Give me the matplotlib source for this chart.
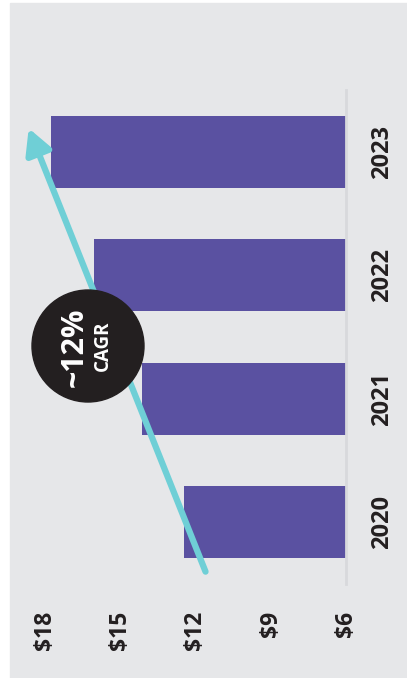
import matplotlib.pyplot as plt
from matplotlib.patches import Circle, Rectangle

years = ['2020', '2021', '2022', '2023']
values = [12.45, 14.15, 16.05, 17.75]
tick_vals = [18, 15, 12, 9, 6]
tick_labels = ['$18', '$15', '$12', '$9', '$6']

purple = '#5a51a1'
cyan = '#6fcfd6'
bg = '#e6e7e9'
fonts = ['Open Sans', 'DejaVu Sans']

fig = plt.figure(figsize=(4.07, 6.78), dpi=100)
fig.patches.append(Rectangle((10 / 407, 0), 1, 1 - 3 / 678, transform=fig.transFigure,
                             color=bg, zorder=-1))

ax = fig.add_axes([45 / 407, (678 - 584) / 678, 301 / 407, 494 / 678])
ax.set_facecolor('none')

pos = list(range(len(years)))
ax.barh(pos, [v - 6 for v in values], left=6, height=0.585, color=purple, zorder=2)

ax.set_xlim(18, 6)
ax.set_ylim(-0.5, 3.5)

for s in ['left', 'top', 'bottom']:
    ax.spines[s].set_visible(False)
ax.spines['right'].set_color('#d8d9dc')
ax.spines['right'].set_linewidth(2)

ax.set_xticks(tick_vals)
ax.set_xticklabels(tick_labels, rotation=90, fontsize=16.5, fontweight='bold',
                   family=fonts, color='#231f20')
ax.tick_params(axis='x', length=0, pad=19)

ax.yaxis.tick_right()
ax.set_yticks(pos)
ax.set_yticklabels(years, rotation=90, fontsize=17, fontweight='bold',
                   family=fonts, color='#231f20', va='center')
ax.tick_params(axis='y', length=0, pad=17)

# CAGR arrow
ax.annotate('', xy=(18.65, 3.19), xytext=(11.6, -0.4),
            arrowprops=dict(arrowstyle='-|>,head_length=1.5,head_width=0.8',
                            color=cyan, lw=4.5, shrinkA=0, shrinkB=0),
            annotation_clip=False, zorder=3)

# black badge (in inches so it stays round)
badge = Circle((0.88, (678 - 346) / 100), 0.56, transform=fig.dpi_scale_trans,
               color='#231f20', zorder=5)
fig.patches.append(badge)
fig.text(75 / 407, 1 - 347 / 678, '~12%', rotation=90, ha='center', va='center',
         fontsize=22, fontweight='bold', color='white', family=fonts, zorder=6)
fig.text(103 / 407, 1 - 346 / 678, 'CAGR', rotation=90, ha='center', va='center',
         fontsize=13.5, fontweight='bold', color='white', family=fonts, zorder=6)

fig.savefig('out.png', dpi=100, facecolor='white')
